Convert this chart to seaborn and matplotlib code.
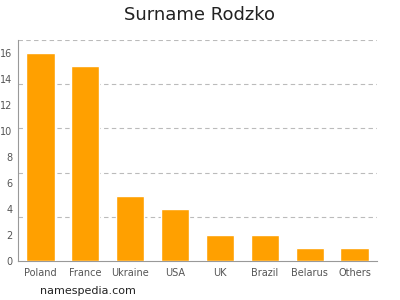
import matplotlib
matplotlib.use("Agg")
import matplotlib.pyplot as plt
import seaborn as sns
import pandas as pd

countries = ["Poland", "France", "Ukraine", "USA", "UK", "Brazil", "Belarus", "Others"]
counts = [16, 15, 5, 4, 2, 2, 1, 1]
y_ticks = [0, 2, 4, 6, 8, 10, 12, 14, 16]
grid_levels = [3.4, 6.8, 10.2, 13.6, 17.0]

sns.set_style("white")
plt.rcParams['font.family'] = ['DejaVu Sans']

df = pd.DataFrame({"country": countries, "count": counts})

fig = plt.figure(figsize=(4, 3), dpi=100)
ax = fig.add_axes([18/400, 1 - 261/300, 359/400, 221/300])

sns.barplot(data=df, x="country", y="count", color="#FFA000", saturation=1,
            width=0.63, ax=ax, zorder=3)

for g in grid_levels:
    ax.axhline(g, color="#bbbbbb", linestyle=(0, (4, 3)), linewidth=0.8, zorder=1)

ax.set_ylim(0, 17)
ax.set_xlim(-0.5, len(countries) - 0.5)
ax.set_yticks(y_ticks)
ax.set_yticklabels([str(t) for t in y_ticks])
ax.set_xlabel("")
ax.set_ylabel("")
for s in ["top", "right"]:
    ax.spines[s].set_visible(False)
for s in ["left", "bottom"]:
    ax.spines[s].set_color("#999999")
    ax.spines[s].set_linewidth(0.8)
ax.tick_params(axis="both", labelsize=7, colors="#555555", length=3, width=0.6)
ax.tick_params(axis="y", pad=1)
ax.tick_params(axis="x", pad=2)
ax.tick_params(axis="both", color="#999999")

fig.text(0.5, 1 - 15/300, "Surname Rodzko", ha="center", va="center", fontsize=13, color="#222222")
fig.text(40/400, 1 - 291/300, "namespedia.com", ha="left", va="center", fontsize=8, color="#222222")

fig.savefig("out.png", dpi=100)
